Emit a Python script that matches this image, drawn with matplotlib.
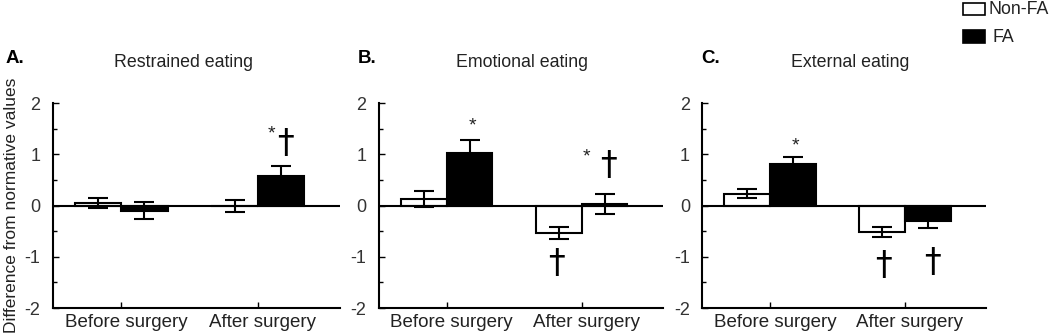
import numpy as np
from matplotlib import pyplot as plt
from matplotlib.ticker import MultipleLocator, FixedLocator

plt.rcParams['font.family'] = ['Liberation Sans', 'DejaVu Sans']
plt.rcParams['axes.unicode_minus'] = False

# datos
groups = ['Before surgery', 'After surgery']
titles = ['Restrained eating', 'Emotional eating', 'External eating']
letters = ['A.', 'B.', 'C.']

nonfa_mean = [[0.05, -0.01], [0.13, -0.54], [0.23, -0.51]]
nonfa_err = [[0.10, 0.125], [0.15, 0.12], [0.09, 0.10]]
fa_mean = [[-0.10, 0.57], [1.03, 0.03], [0.81, -0.30]]
fa_err = [[0.17, 0.20], [0.25, 0.20], [0.13, 0.13]]

# asteriscos: (panel, x, y)
stars = [(0, 1.10, 1.40), (1, 0.19, 1.56), (1, 1.04, 0.94), (2, 0.19, 1.17)]
# cruces: (panel, x, y)
daggers = [(0, 1.20, 1.21), (1, 1.20, 0.78), (1, 0.815, -1.13),
           (2, 0.84, -1.17), (2, 1.20, -1.11)]

fig = plt.figure(figsize=(10.5, 3.36), dpi=100)
lefts = [0.0505, 0.361, 0.669]
widths = [0.273, 0.270, 0.270]
letter_x = [0.005, 0.341, 0.668]
title_x = [0.175, 0.497, 0.810]
x = np.arange(len(groups))
w = 0.34
axes = []
for i in range(3):
    ax = fig.add_axes([lefts[i], 0.0833, widths[i], 0.61])
    axes.append(ax)
    ax.bar(x - w/2, nonfa_mean[i], w, color='white', edgecolor='black', linewidth=1.5, zorder=2)
    ax.bar(x + w/2, fa_mean[i], w, color='black', edgecolor='black', linewidth=1.5, zorder=2)
    ax.errorbar(x - w/2, nonfa_mean[i], yerr=nonfa_err[i], fmt='none', ecolor='black',
                elinewidth=1.5, capsize=7, capthick=1.5, zorder=3)
    ax.errorbar(x + w/2, fa_mean[i], yerr=fa_err[i], fmt='none', ecolor='black',
                elinewidth=1.5, capsize=7, capthick=1.5, zorder=3)
    ax.axhline(0, color='black', linewidth=1.5, zorder=4)
    ax.set_xlim(-0.5, 1.6)
    ax.set_ylim(-2, 2)
    ax.xaxis.set_major_locator(FixedLocator(x))
    ax.set_xticklabels(['' for g in groups])
    # etiquetas un poco a la derecha del tick, como en el original
    for xi, g in zip(x, groups):
        ax.annotate(g, xy=(xi, 0), xycoords=('data', 'axes fraction'), xytext=(3.6, -4.5),
                    textcoords='offset points', ha='center', va='top', fontsize=13.5,
                    color='#222222', annotation_clip=False)
    ax.yaxis.set_minor_locator(MultipleLocator(0.5))
    ax.set_yticks([-2, -1, 0, 1, 2])
    ax.set_yticklabels(['-2', '-1', '0', '1', '2'], fontsize=13, color='#333333')
    ax.tick_params(direction='in', length=4, width=1, pad=3)
    ax.tick_params(which='minor', direction='in', length=3, width=1)
    ax.tick_params(axis='y', pad=9)
    for s in ['top', 'right']:
        ax.spines[s].set_visible(False)
    for s in ['left', 'bottom']:
        ax.spines[s].set_linewidth(1.5)
    fig.text(title_x[i], 0.815, titles[i], ha='center', va='center',
             fontsize=12.8, color='#222222')
    fig.text(letter_x[i], 0.825, letters[i], fontsize=13.5, fontweight='bold', ha='left', va='center')

for p, mx, my in stars:
    axes[p].text(mx, my, '*', ha='center', va='center', fontsize=14, color='#222222', zorder=5)
for p, mx, my in daggers:
    axes[p].text(mx, my, '\u2020', ha='center', va='center', fontsize=24,
                 family='DejaVu Sans', zorder=5)

fig.text(0.011, 0.39, 'Difference from normative values', rotation=90, ha='center', va='center',
         fontsize=12.5, color='#222222')

# leyenda manual
la = fig.add_axes([0, 0, 1, 1])
la.set_xlim(0, 1050)
la.set_ylim(336, 0)
la.axis('off')
la.bar([974], [12], 22, bottom=[3], color='white', edgecolor='black', linewidth=1.2)
la.bar([974], [13], 22, bottom=[30], color='black', edgecolor='black', linewidth=1.2)
la.text(989, 9.5, 'Non-FA', fontsize=12.8, va='center', ha='left', color='#222222')
la.text(992, 37, 'FA', fontsize=12.8, va='center', ha='left', color='#222222')

fig.savefig('out.png', dpi=100)
